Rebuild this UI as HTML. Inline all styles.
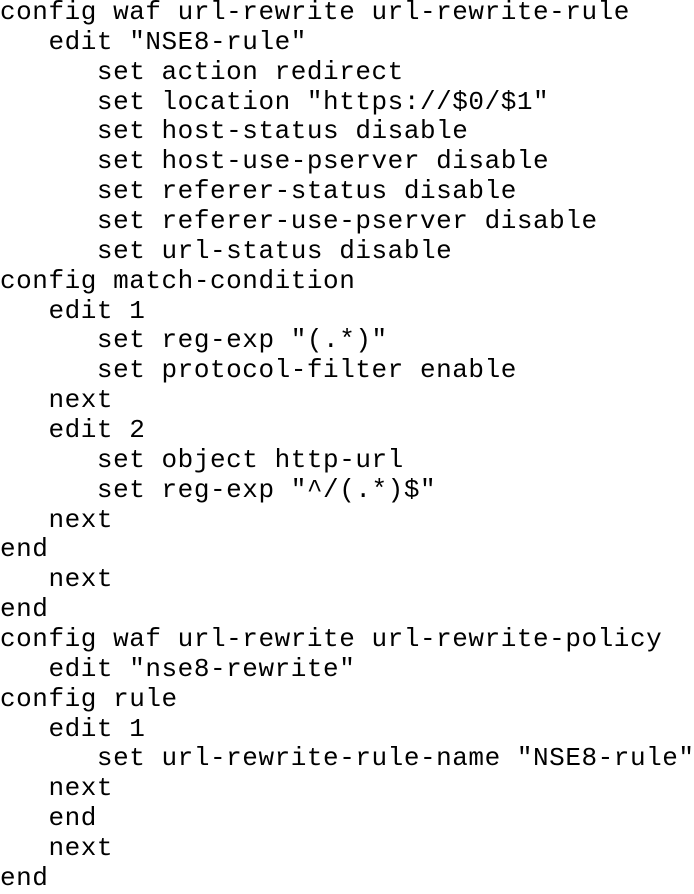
<!DOCTYPE html>
<html>
<head>
<meta charset="utf-8">
<style>
html,body{margin:0;padding:0;background:#fff;width:694px;height:886px;overflow:hidden;}
pre{margin:0;position:absolute;left:0;top:-2px;font-family:"Liberation Mono","Courier New",monospace;font-size:26px;letter-spacing:0.55px;line-height:29.86px;color:#000;white-space:pre;}
</style>
</head>
<body>
<pre>config waf url-rewrite url-rewrite-rule
   edit "NSE8-rule"
      set action redirect
      set location "https://$0/$1"
      set host-status disable
      set host-use-pserver disable
      set referer-status disable
      set referer-use-pserver disable
      set url-status disable
config match-condition
   edit 1
      set reg-exp "(.*)"
      set protocol-filter enable
   next
   edit 2
      set object http-url
      set reg-exp "^/(.*)$"
   next
end
   next
end
config waf url-rewrite url-rewrite-policy
   edit "nse8-rewrite"
config rule
   edit 1
      set url-rewrite-rule-name "NSE8-rule"
   next
   end
   next
end</pre>
</body>
</html>
